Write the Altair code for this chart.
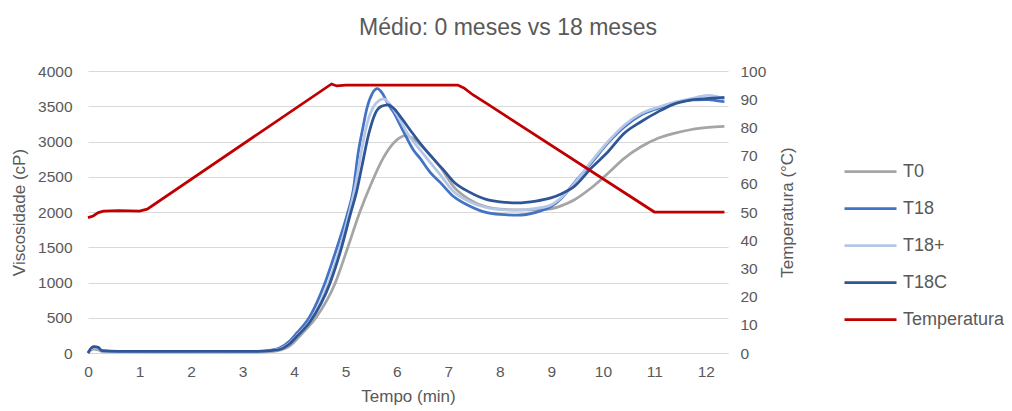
import altair as alt
import pandas as pd

chart_title = "Médio: 0 meses vs 18 meses"
series_names = ["T0", "T18", "T18+", "T18C"]
series_colors = ["#A5A5A5", "#4472C4", "#B4C7E7", "#2F5597"]
temp_name = "Temperatura"
temp_color = "#C00000"
x_ticks = list(range(0, 13))
visc_ticks = [0, 500, 1000, 1500, 2000, 2500, 3000, 3500, 4000]
temp_ticks = [0, 10, 20, 30, 40, 50, 60, 70, 80, 90, 100]

t0_time = [0, 0.1, 0.2, 0.3, 0.6, 2.5, 3.4, 3.6, 3.9, 4.15, 4.44, 4.8, 5.04, 5.28, 5.5, 5.73, 5.95, 6.1, 6.16, 6.3, 6.5,
           6.84, 7.1, 7.4, 7.75, 8.0, 8.34, 8.7, 8.99, 9.2, 9.44, 9.77, 10.1, 10.42, 10.74, 11.07, 11.38, 11.72, 12.05, 12.36]
t0_visc = [0, 55, 45, 15, 15, 12, 15, 22, 90, 270, 515, 990, 1485, 2000, 2400, 2760, 2990, 3070, 3085, 3050, 2920,
           2640, 2360, 2180, 2070, 2040, 2030, 2030, 2045, 2090, 2170, 2340, 2550, 2765, 2925, 3045, 3115, 3170, 3200, 3215]

t18_time = [0, 0.07, 0.12, 0.2, 0.27, 0.6, 1.5, 2.5, 3.3, 3.55, 3.72, 3.9, 4.05, 4.31, 4.6, 4.83, 5.04, 5.15, 5.25, 5.34,
            5.42, 5.52, 5.62, 5.72, 5.82, 5.93, 6.1, 6.32, 6.45, 6.65, 6.84, 7.1, 7.4, 7.75, 8.0, 8.34, 8.7, 8.99, 9.2,
            9.44, 9.77, 10.1, 10.42, 10.74, 11.07, 11.38, 11.72, 12.05, 12.2, 12.36]
t18_visc = [0, 70, 85, 75, 30, 22, 22, 20, 22, 40, 70, 160, 280, 520, 990, 1485, 1980, 2300, 2850, 3200,
            3480, 3680, 3750, 3680, 3540, 3420, 3180, 2880, 2760, 2560, 2420, 2220, 2090, 1990, 1965, 1955, 1995, 2075, 2200,
            2410, 2690, 2980, 3210, 3375, 3470, 3545, 3590, 3595, 3580, 3565]

t18p_time = [0, 0.07, 0.12, 0.2, 0.27, 0.6, 1.5, 2.5, 3.3, 3.55, 3.72, 3.9, 4.05, 4.31, 4.67, 4.89, 5.07, 5.2, 5.32, 5.42,
             5.55, 5.65, 5.74, 5.85, 6.0, 6.2, 6.45, 6.84, 7.1, 7.4, 7.75, 8.0, 8.34, 8.7, 8.99, 9.2, 9.44, 9.77, 10.1,
             10.42, 10.74, 11.07, 11.38, 11.72, 11.9, 12.05, 12.2, 12.36]
t18p_visc = [0, 65, 80, 70, 28, 22, 22, 20, 22, 35, 55, 130, 240, 450, 990, 1485, 1980, 2400, 2900, 3250,
             3500, 3580, 3605, 3540, 3380, 3120, 2880, 2530, 2290, 2150, 2060, 2035, 2025, 2050, 2100, 2210, 2400, 2710, 3000,
             3235, 3395, 3485, 3555, 3610, 3640, 3655, 3640, 3600]

t18c_time = [0, 0.07, 0.12, 0.2, 0.27, 0.6, 1.5, 2.5, 3.3, 3.55, 3.72, 3.9, 4.05, 4.31, 4.7, 4.92, 5.1, 5.22, 5.32, 5.45,
             5.58, 5.7, 5.83, 5.95, 6.1, 6.3, 6.5, 6.7, 6.9, 7.1, 7.4, 7.75, 8.0, 8.34, 8.7, 8.99, 9.2, 9.44, 9.77,
             10.1, 10.42, 10.74, 11.07, 11.38, 11.72, 12.05, 12.36]
t18c_visc = [0, 75, 90, 80, 32, 24, 24, 22, 24, 35, 50, 120, 230, 440, 990, 1485, 1980, 2300, 2650, 3100,
             3400, 3500, 3520, 3460, 3320, 3120, 2930, 2760, 2600, 2430, 2285, 2175, 2145, 2130, 2155, 2200, 2260, 2360, 2620,
             2855, 3120, 3280, 3420, 3530, 3590, 3610, 3625]

temp_time = [0, 0.1, 0.2, 0.3, 0.6, 1.0, 1.15, 4.73, 4.83, 5.0, 7.18, 7.3, 7.48, 7.74, 11.0, 12.36]
temp_vals = [48, 48.6, 49.8, 50.3, 50.5, 50.3, 51, 95.4, 94.7, 95, 95, 94, 91.5, 88.5, 50, 50]

rows = []
for name, times, vals in [("T0", t0_time, t0_visc), ("T18", t18_time, t18_visc),
                          ("T18+", t18p_time, t18p_visc), ("T18C", t18c_time, t18c_visc)]:
    for i, (t, v) in enumerate(zip(times, vals)):
        rows.append({"series": name, "tempo": t, "valor": v, "idx": i})
visc_df = pd.DataFrame(rows)
temp_df = pd.DataFrame({"series": temp_name, "tempo": temp_time, "valor": temp_vals,
                        "idx": list(range(len(temp_time)))})

domain = series_names + [temp_name]
color_scale = alt.Scale(domain=domain, range=series_colors + [temp_color])
width_scale = alt.Scale(domain=domain, range=[2.75, 2.75, 2.75, 2.75, 3.75])

FONT = "Liberation Sans"
TXT = "#595959"

legend = alt.Legend(title=None, orient="none", legendX=755, legendY=73, symbolType="stroke",
                    symbolSize=2704, rowPadding=-15.5, labelFontSize=18, labelColor=TXT, labelFont=FONT,
                    labelOffset=5, padding=0)

x_enc = alt.X("tempo:Q", scale=alt.Scale(domain=[0, 12.43], nice=False, zero=False),
              axis=alt.Axis(values=x_ticks, format="d", title="Tempo (min)", grid=False, ticks=False,
                            domain=True, domainColor="#D9D9D9", domainWidth=1, labelPadding=11,
                            labelFlush=False, titlePadding=9))

visc = alt.Chart(visc_df).mark_line(interpolate="monotone").encode(
    x=x_enc,
    y=alt.Y("valor:Q", scale=alt.Scale(domain=[0, 4000], nice=False),
            axis=alt.Axis(values=visc_ticks, format="d", title="Viscosidade (cP)", grid=True,
                          gridColor="#D9D9D9", gridWidth=1, domain=False, ticks=False, labelPadding=16,
                          titlePadding=9)),
    color=alt.Color("series:N", scale=color_scale, legend=legend),
    strokeWidth=alt.StrokeWidth("series:N", scale=width_scale, legend=legend),
    order="idx:Q",
)

temp = alt.Chart(temp_df).mark_line(interpolate="linear").encode(
    x=x_enc,
    y=alt.Y("valor:Q", scale=alt.Scale(domain=[0, 100], nice=False),
            axis=alt.Axis(orient="right", values=temp_ticks, format="d", title="Temperatura (°C)", grid=False,
                          domain=False, ticks=False, labelPadding=12, titlePadding=31, titleAngle=270)),
    color=alt.Color("series:N", scale=color_scale, legend=legend),
    strokeWidth=alt.StrokeWidth("series:N", scale=width_scale, legend=legend),
    order="idx:Q",
)

chart = alt.layer(visc, temp).resolve_scale(y="independent").properties(
    width=640, height=282,
    title=alt.TitleParams(chart_title, fontSize=23, font=FONT, color=TXT, fontWeight="normal",
                          anchor="middle", dx=100, offset=24),
    padding={"left": 80, "top": 63, "right": 276, "bottom": 56},
    autosize=alt.AutoSizeParams(type="none"),
).configure_view(stroke=None).configure_axis(
    labelFont=FONT, titleFont=FONT, labelColor=TXT, titleColor=TXT, labelFontSize=15.5,
    titleFontSize=17, titleFontWeight="normal"
)

chart.save("out.html", embed_options={"renderer": "svg", "actions": False})
